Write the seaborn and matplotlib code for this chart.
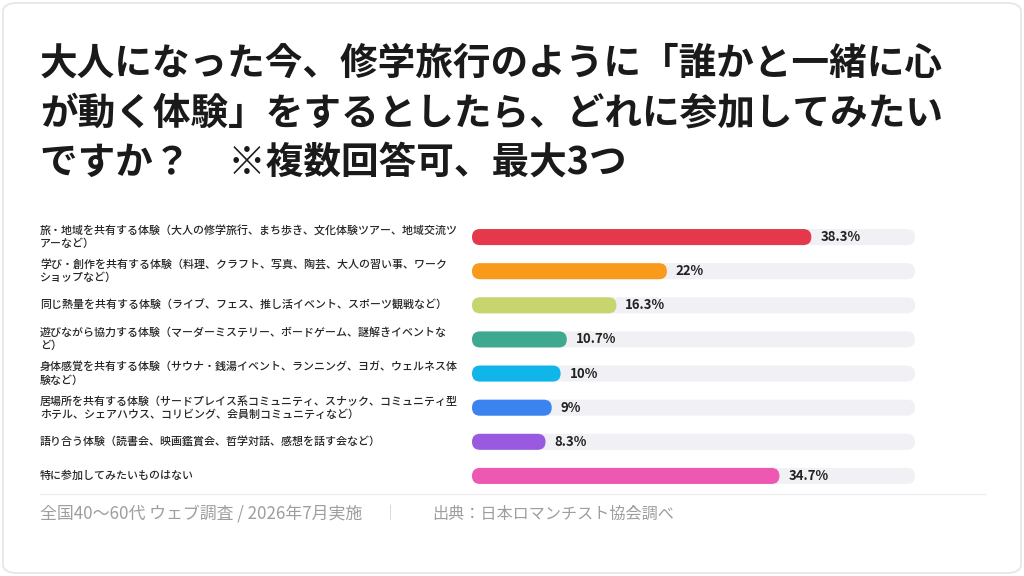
import matplotlib
matplotlib.use("Agg")
import matplotlib.pyplot as plt
import matplotlib.transforms as mtransforms
from matplotlib.patches import FancyBboxPatch
from matplotlib.lines import Line2D
import seaborn as sns

# --- data -------------------------------------------------------------
TITLE = ("大人になった今、修学旅行のように「誰かと一緒に心\n"
         "が動く体験」をするとしたら、どれに参加してみたい\n"
         "ですか？　※複数回答可、最大3つ")

categories = [
    "旅・地域を共有する体験（大人の修学旅行、まち歩き、文化体験ツアー、地域交流ツ\nアーなど）",
    "学び・創作を共有する体験（料理、クラフト、写真、陶芸、大人の習い事、ワーク\nショップなど）",
    "同じ熱量を共有する体験（ライブ、フェス、推し活イベント、スポーツ観戦など）",
    "遊びながら協力する体験（マーダーミステリー、ボードゲーム、謎解きイベントな\nど）",
    "身体感覚を共有する体験（サウナ・銭湯イベント、ランニング、ヨガ、ウェルネス体\n験など）",
    "居場所を共有する体験（サードプレイス系コミュニティ、スナック、コミュニティ型\nホテル、シェアハウス、コリビング、会員制コミュニティなど）",
    "語り合う体験（読書会、映画鑑賞会、哲学対話、感想を話す会など）",
    "特に参加してみたいものはない",
]
values = [38.3, 22, 16.3, 10.7, 10, 9, 8.3, 34.7]
track_max = 50

colors = ["#e6384b", "#f89a1c", "#c8d56e", "#3fa98f",
          "#10b5ea", "#3b84ef", "#9a5adf", "#ee58b2"]
TRACK_COLOR = "#f1f0f5"

FOOTER_LEFT = "全国40〜60代 ウェブ調査 / 2026年7月実施"
FOOTER_RIGHT = "出典：日本ロマンチスト協会調べ"

FONT = ["Noto Sans CJK JP", "DejaVu Sans"]


def round_bars(ax, patches, radius_px):
    """Swap the plain bars for pill shaped ones."""
    fig = ax.figure
    fig.canvas.draw()
    bbox = ax.get_window_extent()
    x0, x1 = ax.get_xlim()
    y0, y1 = ax.get_ylim()
    xu = abs(x1 - x0) / bbox.width
    yu = abs(y1 - y0) / bbox.height
    aspect = yu / xu
    for p in patches:
        x, y = p.get_x(), p.get_y()
        w, h = p.get_width(), p.get_height()
        r = min(radius_px * xu, w / 2)
        fb = FancyBboxPatch((x, y), w, h,
                            boxstyle=f"round,pad=0,rounding_size={r}",
                            mutation_aspect=aspect,
                            facecolor=p.get_facecolor(), edgecolor="none",
                            zorder=p.get_zorder())
        p.remove()
        ax.add_patch(fb)


def main():
    sns.set_theme(style="white")
    plt.rcParams["font.family"] = FONT

    fig = plt.figure(figsize=(10.24, 5.76), dpi=100)
    fig.patch.set_facecolor("white")

    # card outline
    fig.patches.append(FancyBboxPatch(
        (3 / 1024, 3 / 576), 1018 / 1024, 570 / 576,
        boxstyle="round,pad=0,rounding_size=0.014",
        transform=fig.transFigure, facecolor="none",
        edgecolor="#e4e4ea", linewidth=1.2, zorder=-5))

    ax = fig.add_axes([472 / 1024, 1 - 493 / 576, 443 / 1024, 273 / 576])
    ax.set_facecolor("none")

    sns.barplot(x=[track_max] * len(categories), y=categories, orient="h",
                color=TRACK_COLOR, saturation=1, width=0.47, ax=ax, zorder=1)
    sns.barplot(x=values, y=categories, orient="h", hue=categories,
                palette=colors, saturation=1, legend=False, width=0.47,
                ax=ax, zorder=2)

    ax.set_xlim(0, track_max)
    ax.set_ylim(len(categories) - 0.5, -0.5)
    ax.set_xlabel("")
    ax.set_ylabel("")
    ax.set_xticks([])
    ax.set_yticks([])
    sns.despine(ax=ax, left=True, bottom=True)

    round_bars(ax, list(ax.patches), 8)

    # category labels, left aligned on the card
    trans = mtransforms.blended_transform_factory(fig.transFigure, ax.transData)
    for i, label in enumerate(categories):
        ax.text(40 / 1024, i, label, transform=trans, ha="left", va="center",
                fontsize=7.9, fontweight="medium", color="#262626",
                linespacing=1.3, family=FONT, clip_on=False)

    # value labels
    for i, v in enumerate(values):
        ax.text(v + 1.0, i, f"{v:g}%", ha="left", va="center",
                fontsize=9.5, fontweight="bold", color="#222222",
                family=FONT)

    # title
    fig.text(40 / 1024, 1 - 44 / 576, TITLE, ha="left", va="top",
             fontsize=27.1, fontweight="bold", color="#1a1a1a",
             linespacing=1.34, family=FONT)

    # footer
    fig.add_artist(Line2D([40 / 1024, 985 / 1024], [1 - 494 / 576] * 2,
                          transform=fig.transFigure, color="#f0edf2",
                          linewidth=1))
    fy = 1 - 514 / 576
    fig.text(40 / 1024, fy, FOOTER_LEFT, ha="left", va="center",
             fontsize=12.2, color="#9e9e9e", family=FONT)
    fig.text(390 / 1024, fy, "｜", ha="center", va="center",
             fontsize=11, color="#c8c8c8", family=FONT)
    fig.text(432 / 1024, fy, FOOTER_RIGHT, ha="left", va="center",
             fontsize=11.6, color="#9e9e9e", family=FONT)

    fig.savefig("out.png", dpi=100, facecolor="white")


if __name__ == "__main__":
    main()
